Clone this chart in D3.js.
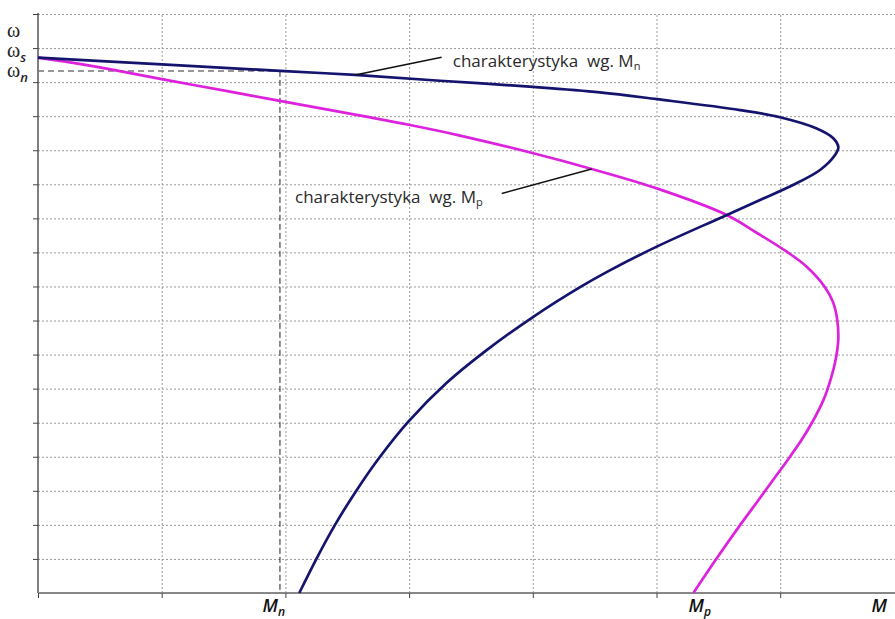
<!DOCTYPE html>
<html><head><meta charset="utf-8">
<script src="https://cdn.jsdelivr.net/npm/d3@7"></script>
<style>
html,body{margin:0;padding:0;background:#fff;}
svg{display:block;}
text{white-space:pre;}
</style></head>
<body>
<svg id="chart" width="895" height="619"></svg>
<script>
// ---- data (M in grid units, omega in grid units) ----
const blueM = [0, 1.0, 1.956, 2.563, 3.250, 4.002, 4.543, 5.002, 5.675, 5.998, 6.295, 6.427, 6.470, 6.443, 6.322, 6.103, 5.837, 5.538, 5.002, 4.600, 4.382, 4.004, 3.627, 3.304, 2.994, 2.765, 2.576, 2.401, 2.253, 2.112];
const blueW = [15.72, 15.52, 15.33, 15.21, 15.04, 14.86, 14.70, 14.50, 14.18, 13.97, 13.64, 13.36, 13.09, 12.86, 12.42, 11.98, 11.54, 11.05, 10.17, 9.43, 8.98, 8.11, 7.13, 6.17, 5.03, 4.00, 3.02, 2.00, 1.02, 0];
const magM = [0, 0.259, 0.609, 1.0, 1.552, 1.956, 2.630, 3.007, 3.412, 4.004, 4.476, 5.002, 5.567, 5.813, 6.053, 6.214, 6.362, 6.427, 6.459, 6.470, 6.451, 6.411, 6.350, 6.269, 6.172, 6.059, 5.942, 5.825, 5.677, 5.487, 5.298];
const magW = [15.72, 15.58, 15.36, 15.09, 14.72, 14.45, 14.00, 13.74, 13.43, 12.91, 12.45, 11.88, 11.10, 10.57, 10.02, 9.58, 8.98, 8.54, 8.07, 7.49, 6.90, 6.31, 5.67, 5.08, 4.49, 3.90, 3.32, 2.73, 2.00, 1.02, 0];
const xGrid = [0, 1, 2, 3, 4, 5, 6];
const yGrid = d3.range(1, 18);
const Mn = 1.956, Mp = 5.35, Mend = 6.8;
const omegaS = 15.72, omegaN = 15.33;
const annMnCurve = [2.563, 15.21], annMnEnd = [3.263, 15.73], annMnText = [3.353, 15.45];
const annMpCurve = [4.476, 12.45], annMpEnd = [3.749, 11.73], annMpText = [2.078, 11.44];

const svg = d3.select("#chart");
const x = d3.scaleLinear().domain([0, 6.928]).range([38, 895]);
const y = d3.scaleLinear().domain([0, 17]).range([593, 14]);

// grid
const grid = svg.append("g");
grid.append("g").attr("transform", `translate(0,${y(0)})`)
  .call(d3.axisBottom(x).tickValues(xGrid.slice(1)).tickSize(-(y(0) - y(17))).tickFormat(""))
  .call(g => g.select(".domain").remove())
  .call(g => g.selectAll("line").attr("stroke", "#9a9a9a").attr("stroke-dasharray", "2,2").attr("stroke-width", 1));
grid.append("g").attr("transform", `translate(${x(0)},0)`)
  .call(d3.axisLeft(y).tickValues(yGrid).tickSize(-(895 - x(0))).tickFormat(""))
  .call(g => g.select(".domain").remove())
  .call(g => g.selectAll("line").attr("stroke", "#9a9a9a").attr("stroke-dasharray", "2,2").attr("stroke-width", 1));

// axes
svg.append("g").attr("transform", `translate(${x(0)},0)`)
  .call(d3.axisLeft(y).tickValues(yGrid).tickSize(5).tickFormat(""))
  .call(g => g.select(".domain").attr("stroke", "#555").attr("stroke-width", 1.5).attr("d", `M0,${y(0)}V${y(17.03)}`))
  .call(g => g.selectAll("line").attr("stroke", "#444"));
svg.append("g").attr("transform", `translate(0,${y(0)})`)
  .call(d3.axisBottom(x).tickValues(xGrid).tickSize(5).tickFormat(""))
  .call(g => g.select(".domain").attr("stroke", "#888").attr("stroke-width", 2).attr("d", `M${x(0)},0H895`))
  .call(g => g.selectAll("line").attr("stroke", "#444"));

// reference dashed lines
svg.append("line").attr("x1", x(0)).attr("x2", x(Mn)).attr("y1", y(omegaN)).attr("y2", y(omegaN))
  .attr("stroke", "#777").attr("stroke-width", 1.5).attr("stroke-dasharray", "6,4");
svg.append("line").attr("x1", x(Mn)).attr("x2", x(Mn)).attr("y1", y(omegaN)).attr("y2", y(0))
  .attr("stroke", "#222").attr("stroke-width", 1).attr("stroke-dasharray", "6,3");

// curves
const line = d3.line().x(d => x(d[0])).y(d => y(d[1])).curve(d3.curveCatmullRom.alpha(0.5));
svg.append("path").datum(magM.map((m, i) => [m, magW[i]])).attr("d", line)
  .attr("fill", "none").attr("stroke", "#dd22dd").attr("stroke-width", 2.7);
svg.append("path").datum(blueM.map((m, i) => [m, blueW[i]])).attr("d", line)
  .attr("fill", "none").attr("stroke", "#14146e").attr("stroke-width", 2.7);

// annotations
const annFont = "'Open Sans', 'DejaVu Sans', sans-serif";
svg.append("line").attr("x1", x(annMnCurve[0])).attr("y1", y(annMnCurve[1]))
  .attr("x2", x(annMnEnd[0])).attr("y2", y(annMnEnd[1])).attr("stroke", "#111").attr("stroke-width", 1.5);
const t1 = svg.append("text").attr("x", x(annMnText[0])).attr("y", y(annMnText[1]))
  .attr("font-family", annFont).attr("font-size", 17).attr("fill", "#2a2a2a");
t1.append("tspan").text("charakterystyka  wg. M");
t1.append("tspan").attr("font-size", 11).attr("dy", 3).text("n");

svg.append("line").attr("x1", x(annMpCurve[0])).attr("y1", y(annMpCurve[1]))
  .attr("x2", x(annMpEnd[0])).attr("y2", y(annMpEnd[1])).attr("stroke", "#111").attr("stroke-width", 1.5);
const t2 = svg.append("text").attr("x", x(annMpText[0])).attr("y", y(annMpText[1]))
  .attr("font-family", annFont).attr("font-size", 17).attr("fill", "#2a2a2a");
t2.append("tspan").text("charakterystyka  wg. M");
t2.append("tspan").attr("font-size", 11).attr("dy", 3).text("p");

// axis labels
const labFont = "'Open Sans', 'DejaVu Sans', sans-serif";
function mLabel(xv, sub) {
  const t = svg.append("text").attr("x", x(xv)).attr("y", 612).attr("text-anchor", "middle")
    .attr("font-family", labFont).attr("font-style", "italic").attr("font-weight", 600)
    .attr("font-size", 18).attr("fill", "#111");
  t.append("tspan").text("M");
  if (sub) t.append("tspan").attr("font-size", 12).attr("dy", 4).text(sub);
}
mLabel(Mn - 0.05, "n");
mLabel(Mp, "p");
mLabel(Mend, null);

function wLabel(sub, yy) {
  const t = svg.append("text").attr("x", 7).attr("y", yy)
    .attr("font-family", "'Liberation Serif', 'DejaVu Serif', serif").attr("font-size", 20).attr("fill", "#222");
  t.append("tspan").text("ω");
  if (sub) t.append("tspan").attr("font-family", labFont).attr("font-style", "italic").attr("font-weight", 600)
    .attr("font-size", 13).attr("dy", 5).text(sub);
}
wLabel(null, 37);
wLabel("s", 57);
wLabel("n", 77);
</script>
</body></html>
